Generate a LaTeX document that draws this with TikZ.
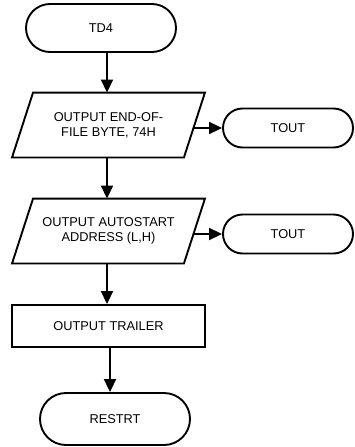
\documentclass[tikz,border=0pt]{standalone}
\usepackage{fontspec}
\setmainfont{Liberation Sans}
\usetikzlibrary{arrows.meta,calc}
\begin{document}
\begin{tikzpicture}[x=1pt,y=-1pt,
  line width=1.9pt,
  lbl/.style={font=\fontsize{12.8}{15}\selectfont, align=center, inner sep=0pt},
  term/.style={lbl, draw, rectangle, minimum width=#1, rounded corners=19.5pt, minimum height=39pt},
  bigterm/.style={lbl, draw, rectangle, minimum width=150pt, rounded corners=24pt, minimum height=48pt},
  iobox/.style={lbl, rectangle, minimum width=170pt, minimum height=63pt},
  procbox/.style={lbl, draw, rectangle, minimum width=193pt, minimum height=42pt},
  flow/.style={-{Triangle[length=13pt,width=12pt]}, line width=1.9pt}]
\useasboundingbox (0,0) rectangle (355,447);

% terminals, process box and the two I/O boxes
\node[bigterm] (td4) at (101,28) {TD4};
\node[iobox] (p1) at (108.5,125) {OUTPUT END-OF-\\FILE BYTE, 74H};
\node[term=130pt] (t1) at (288,128) {TOUT};
\node[iobox] (p2) at (108.5,231) {OUTPUT AUTOSTART\\ADDRESS (L,H)};
\node[term=130pt] (t2) at (288,234) {TOUT};
\node[procbox] (tr) at (108.5,326) {OUTPUT TRAILER};
\node[bigterm, minimum height=52pt, rounded corners=26pt] (rs) at (115,419) {RESTRT};

% slanted outlines of the I/O boxes
\foreach \n in {p1,p2}{
  \draw ($(\n.north west)+(10.5,0)$) -- ($(\n.north east)+(10.5,0)$)
     -- ($(\n.south east)+(-10.5,0)$) -- ($(\n.south west)+(-10.5,0)$) -- cycle;
}

% connectors
\coordinate (c1) at (107,0);
\coordinate (c2) at (110,0);
\draw[flow] (td4.south -| c1) -- (p1.north -| c1);
\draw[flow] (p1.south -| c1) -- (p2.north -| c1);
\draw[flow] (p2.south -| c1) -- (tr.north -| c1);
\draw[flow] (tr.south -| c2) -- (rs.north -| c2);
\draw[flow] (p1.east |- t1.west) -- (t1.west);
\draw[flow] (p2.east |- t2.west) -- (t2.west);
\end{tikzpicture}
\end{document}
